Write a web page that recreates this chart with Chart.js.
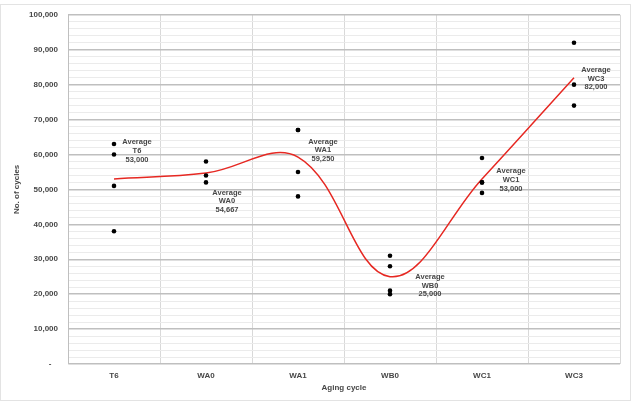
<!DOCTYPE html>
<html>
<head>
<meta charset="utf-8">
<script src="https://cdn.jsdelivr.net/npm/chart.js@4/dist/chart.umd.min.js"></script>
<style>
  html, body { margin: 0; padding: 0; background: #ffffff; }
  canvas { display: block; }
</style>
</head>
<body>
<canvas id="cyclesChart" width="633" height="402"></canvas>
<script>
// Категории (режимы старения)
const agingCycles = ['T6', 'WA0', 'WA1', 'WB0', 'WC1', 'WC3'];

// Отдельные измерения (число циклов) по каждой категории
const t6Values = [63000, 60000, 51000, 38000];
const wa0Values = [58000, 54000, 52000];
const wa1Values = [67000, 67000, 55000, 48000];
const wb0Values = [31000, 28000, 21000, 20000];
const wc1Values = [59000, 52000, 52000, 49000];
const wc3Values = [92000, 80000, 74000];

// Средние значения (красная кривая)
const averageValues = [53000, 54667, 59250, 25000, 53000, 82000];

// Метки оси Y
const yMin = 0;
const yMax = 100000;
const yMajorStep = 10000;
const yMinorStep = 2000;

// Смещения подписей "Average" относительно точки (px)
const labelOffsets = [[23, -28], [21, 28], [25, -7], [40, 9], [29, 1], [22, 1]];

const sampleGroups = [t6Values, wa0Values, wa1Values, wb0Values, wc1Values, wc3Values];
const samplePoints = [];
sampleGroups.forEach((group, i) => {
    group.forEach(v => samplePoints.push({ x: agingCycles[i], y: v }));
});

const textColor = '#474747';
const fontFamily = '"Liberation Sans", Arial, sans-serif';

/**
 * Рисует подписи средних значений и рамку диаграммы
 */
const averageLabelsPlugin = {
    id: 'averageLabels',
    afterDatasetsDraw(chart) {
        const ctx = chart.ctx;
        const meta = chart.getDatasetMeta(1);
        ctx.save();
        ctx.font = 'bold 7.5px ' + fontFamily;
        ctx.fillStyle = textColor;
        ctx.textAlign = 'center';
        ctx.textBaseline = 'middle';
        meta.data.forEach((pt, i) => {
            const [dx, dy] = labelOffsets[i];
            const lines = ['Average', agingCycles[i], averageValues[i].toLocaleString('en-US')];
            lines.forEach((line, k) => {
                ctx.fillText(line, pt.x + dx, pt.y + dy + (k - 1) * 8.6);
            });
        });
        ctx.restore();
    },
    beforeDraw(chart) {
        const ctx = chart.ctx;
        ctx.save();
        ctx.fillStyle = '#ffffff';
        ctx.fillRect(0, 0, chart.width, chart.height);
        ctx.strokeStyle = '#e3e3e3';
        ctx.lineWidth = 1;
        ctx.strokeRect(0.5, 4.5, 630, 396);
        ctx.restore();
    }
};

const config = {
    type: 'line',
    data: {
        labels: agingCycles,
        datasets: [
            {
                label: 'Samples',
                data: samplePoints,
                showLine: false,
                pointRadius: 2.3,
                pointBackgroundColor: '#000000',
                pointBorderWidth: 0,
                order: 0
            },
            {
                label: 'Average',
                data: averageValues,
                borderColor: '#e62822',
                borderWidth: 1.5,
                tension: 0.38,
                pointRadius: 0,
                fill: false,
                order: 1
            }
        ]
    },
    options: {
        responsive: false,
        animation: false,
        devicePixelRatio: 1,
        layout: {
            padding: { top: 13, right: 13, bottom: 0, left: 0 }
        },
        plugins: {
            legend: { display: false },
            tooltip: { enabled: false }
        },
        scales: {
            x: {
                type: 'category',
                offset: true,
                grid: {
                    offset: true,
                    color: '#d9d9d9',
                    lineWidth: 1,
                    drawTicks: false
                },
                border: { display: false },
                ticks: {
                    color: textColor,
                    padding: 7,
                    font: { family: fontFamily, size: 8, weight: 'bold' }
                },
                title: {
                    display: true,
                    text: 'Aging cycle',
                    color: textColor,
                    font: { family: fontFamily, size: 8, weight: 'bold' },
                    padding: { top: 0, bottom: 9 }
                },
                afterFit(scale) { scale.height = 38; }
            },
            y: {
                min: yMin,
                max: yMax,
                grid: {
                    drawTicks: false,
                    color: ctx => (ctx.tick && ctx.tick.value % yMajorStep === 0) ? '#bfbfbf' : '#ebebeb',
                    lineWidth: ctx => (ctx.tick && ctx.tick.value % yMajorStep === 0) ? 1.4 : 1
                },
                border: { color: '#bfbfbf', width: 1 },
                ticks: {
                    stepSize: yMinorStep,
                    autoSkip: false,
                    padding: 10,
                    color: textColor,
                    font: { family: fontFamily, size: 8, weight: 'bold' },
                    callback: function(value) {
                        if (value % yMajorStep !== 0) return '';
                        if (value === 0) return '-   ';
                        return value.toLocaleString('en-US');
                    }
                },
                title: {
                    display: true,
                    text: 'No. of cycles',
                    color: textColor,
                    font: { family: fontFamily, size: 8, weight: 'bold' },
                    padding: { top: 12, bottom: 0 }
                },
                afterFit(scale) { scale.width = 68; }
            }
        }
    },
    plugins: [averageLabelsPlugin]
};

new Chart(document.getElementById('cyclesChart'), config);
</script>
</body>
</html>
